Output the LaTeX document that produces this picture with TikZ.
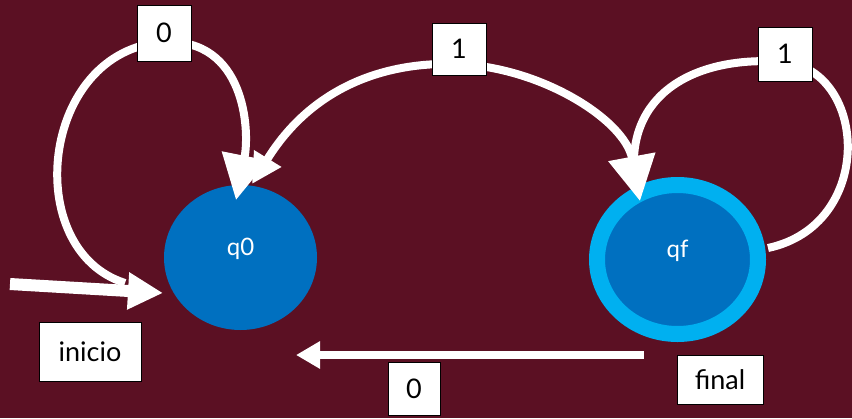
\documentclass[tikz,border=0pt]{standalone}
\usepackage{fontspec}
\setmainfont{Lato}
\usetikzlibrary{arrows.meta,shapes.geometric}
\definecolor{bg}{RGB}{91,16,35}
\definecolor{stblue}{RGB}{0,112,192}
\definecolor{ringblue}{RGB}{0,176,240}
\begin{document}
\begin{tikzpicture}[x=1pt,y=-1pt,
  state/.style={ellipse, fill=stblue, inner sep=0pt, text=white,
    font=\fontsize{24}{28}\selectfont, text height=11pt, text depth=16pt},
  lab/.style={draw=black, line width=1pt, fill=white, inner sep=0pt,
    font=\fontsize{27}{32}\selectfont, text=black},
  edge/.style={draw=white, line width=8pt},
]
\fill[bg] (0,0) rectangle (852,418);
\useasboundingbox (0,0) rectangle (852,418);

% states
\node[state, minimum width=153pt, minimum height=145pt] (q0) at (240.5,257.5) {q0};
\node[state, draw=ringblue, line width=16pt, minimum width=161pt, minimum height=149pt] (qf) at (677.5,259.5) {qf};

% free ends
\coordinate (start) at (10,284);

% self-loop on qf (label 1)
\draw[edge] ([shift={(90.5,-11.5)}]qf.center) .. controls (875,225) and (868,72) .. (785,62)
  .. controls (700,55) and (630,90) .. ([shift={(-43.5,-89.5)}]qf.center);

% arc q0 -- qf (label 1)
\draw[edge, {Triangle[length=30pt,width=30pt]}-{Triangle[length=45pt,width=46pt]}]
  ([shift={(11.5,-73.5)}]q0.center) .. controls (310,90) and (380,62) .. (455,64)
  .. controls (540,66) and (625,120) .. ([shift={(-37.5,-58.5)}]qf.center);

% self-loop on q0 (label 0)
\draw[edge, -{Triangle[length=45pt,width=45pt]}]
  ([shift={(-115.5,25.5)}]q0.center) .. controls (20,250) and (40,50) .. (164,42)
  .. controls (245,38) and (250,130) .. ([shift={(-4.5,-57.5)}]q0.center);

% initial arrow
\draw[white, line width=12pt, -{Triangle[length=35pt,width=35pt]}]
  (start) -- ([shift={(-77.5,35.5)}]q0.center);

% qf -> q0 (label 0)
\draw[edge, -{Triangle[length=24pt,width=26pt]}]
  ([shift={(-34,95.5)}]qf.center) -- ([shift={(55.5,97.5)}]q0.center);

% labels
\node[lab, minimum width=54pt, minimum height=56pt] (l0t) at (164,33) {0};
\node[lab, minimum width=54pt, minimum height=52pt] (l1m) at (459,49) {1};
\node[lab, minimum width=54pt, minimum height=54pt] (l1r) at (785,54) {1};
\node[lab, minimum width=102pt, minimum height=59pt] (lini) at (90,351.5) {inicio};
\node[lab, minimum width=52pt, minimum height=53pt] (l0b) at (414,389) {0};
\node[lab, minimum width=86pt, minimum height=49pt] (lfin) at (720,379.5) {final};
\end{tikzpicture}
\end{document}
